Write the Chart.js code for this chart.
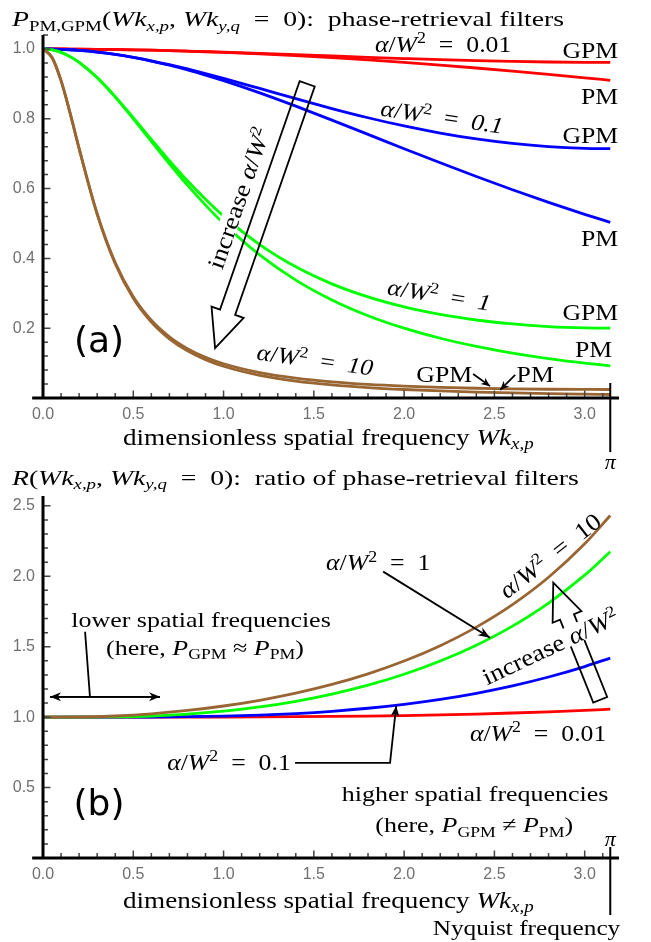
<!DOCTYPE html>
<html>
<head>
<meta charset="utf-8">
<script src="https://cdn.jsdelivr.net/npm/chart.js@4.4.0/dist/chart.umd.min.js"></script>
<style>
    html, body { margin: 0; padding: 0; background: #fff; }
    #wrap { position: relative; width: 651px; height: 942px; overflow: hidden; }
    canvas { position: absolute; left: 0; }
    #cA { top: 0; }
    #cB { top: 460px; }
</style>
</head>
<body>
<div id="wrap">
    <canvas id="cA" width="651" height="480"></canvas>
    <canvas id="cB" width="651" height="482"></canvas>
</div>
<script>
// 频率采样点 (Wk_x,p)
const freqA = [0, 0.05, 0.1, 0.15, 0.2, 0.3, 0.4, 0.5, 0.6, 0.7, 0.8, 0.9, 1.0, 1.2, 1.4, 1.6, 1.8, 2.0, 2.2, 2.4, 2.6, 2.8, 3.0, 3.1416];

// (a) 滤波器 P_PM / P_GPM
const redPM    = [1, 1.0000, 0.9999, 0.9998, 0.9996, 0.9991, 0.9984, 0.9975, 0.9964, 0.9951, 0.9936, 0.9920, 0.9901, 0.9858, 0.9808, 0.9750, 0.9686, 0.9615, 0.9538, 0.9455, 0.9367, 0.9273, 0.9174, 0.9102];
const redGPM   = [1, 1.0000, 0.9999, 0.9998, 0.9996, 0.9991, 0.9984, 0.9976, 0.9965, 0.9953, 0.9940, 0.9925, 0.9909, 0.9874, 0.9837, 0.9798, 0.9760, 0.9725, 0.9692, 0.9664, 0.9642, 0.9626, 0.9617, 0.9615];
const bluePM   = [1, 0.9998, 0.9990, 0.9978, 0.9960, 0.9911, 0.9843, 0.9756, 0.9653, 0.9533, 0.9398, 0.9251, 0.9091, 0.8741, 0.8361, 0.7962, 0.7553, 0.7143, 0.6739, 0.6345, 0.5967, 0.5605, 0.5263, 0.5033];
const blueGPM  = [1, 0.9998, 0.9990, 0.9978, 0.9960, 0.9911, 0.9845, 0.9761, 0.9662, 0.9551, 0.9428, 0.9296, 0.9158, 0.8869, 0.8576, 0.8293, 0.8029, 0.7793, 0.7589, 0.7421, 0.7292, 0.7202, 0.7153, 0.7143];
const greenPM  = [1, 0.9975, 0.9901, 0.9780, 0.9615, 0.9174, 0.8621, 0.8000, 0.7353, 0.6711, 0.6098, 0.5525, 0.5000, 0.4098, 0.3378, 0.2809, 0.2358, 0.2000, 0.1712, 0.1479, 0.1289, 0.1131, 0.1000, 0.0920];
const greenGPM = [1, 0.9975, 0.9901, 0.9780, 0.9617, 0.9180, 0.8636, 0.8033, 0.7411, 0.6801, 0.6224, 0.5692, 0.5210, 0.4395, 0.3759, 0.3270, 0.2895, 0.2609, 0.2394, 0.2235, 0.2121, 0.2047, 0.2008, 0.2000];
const brownPM  = [1, 0.9756, 0.9091, 0.8163, 0.7143, 0.5263, 0.3846, 0.2857, 0.2174, 0.1695, 0.1351, 0.1099, 0.0909, 0.0649, 0.0485, 0.0376, 0.0299, 0.0244, 0.0202, 0.0171, 0.0146, 0.0126, 0.0110, 0.0100];
const brownGPM = [1, 0.9756, 0.9092, 0.8166, 0.7150, 0.5282, 0.3878, 0.2900, 0.2226, 0.1753, 0.1415, 0.1167, 0.0981, 0.0727, 0.0568, 0.0463, 0.0391, 0.0341, 0.0305, 0.0280, 0.0262, 0.0251, 0.0245, 0.0244];

// (b) 比值 R = P_GPM / P_PM
const freqB = [0, 0.2, 0.4, 0.6, 0.8, 1.0, 1.2, 1.4, 1.6, 1.8, 2.0, 2.2, 2.4, 2.6, 2.8, 3.0, 3.1416];
const ratio001 = [1, 1.0000, 1.0000, 1.0001, 1.0003, 1.0008, 1.0016, 1.0030, 1.0049, 1.0077, 1.0114, 1.0161, 1.0221, 1.0294, 1.0381, 1.0483, 1.0564];
const ratio01  = [1, 1.0000, 1.0002, 1.0010, 1.0032, 1.0074, 1.0146, 1.0257, 1.0416, 1.0631, 1.0910, 1.1262, 1.1696, 1.2221, 1.2849, 1.3591, 1.4193];
const ratio1   = [1, 1.0001, 1.0018, 1.0079, 1.0208, 1.0420, 1.0724, 1.1128, 1.1640, 1.2274, 1.3047, 1.3981, 1.5107, 1.6462, 1.8098, 2.0080, 2.1739];
const ratio10  = [1, 1.0010, 1.0082, 1.0237, 1.0473, 1.0791, 1.1198, 1.1704, 1.2324, 1.3075, 1.3982, 1.5075, 1.6393, 1.7987, 1.9928, 2.2304, 2.4316];

const xTicks = [0, 0.5, 1.0, 1.5, 2.0, 2.5, 3.0];

const RED = '#ff0000', BLUE = '#0000ff', GREEN = '#00ff00', BROWN = '#996633';
const SERIF = '"Liberation Serif", "Times New Roman", serif';
const SANS = '"Liberation Sans", Arial, sans-serif';
const STRETCH = 1.12;
const EQ = '\u2002=\u2002';

function series(xs, ys, color) {
    return {
        data: xs.map((x, i) => ({ x, y: ys[i] })),
        borderColor: color,
        borderWidth: 2.8,
        pointRadius: 0,
        fill: false,
        cubicInterpolationMode: 'monotone'
    };
}

// 带数学格式的文字: runs = [[text, style]], style: r / i / sub / subi / sup
function rich(ctx, runs, x, y, o = {}) {
    const size = o.size || 23, sx = o.stretch || STRETCH;
    const fonts = runs.map(([, st]) => {
        const small = st === 'sub' || st === 'subi' || st === 'sup';
        const it = st === 'i' || st === 'subi';
        return (it ? 'italic ' : '') + (small ? Math.round(size * 0.68) : size) + 'px ' + SERIF;
    });
    ctx.save();
    let w = 0;
    const ws = runs.map(([t], i) => { ctx.font = fonts[i]; const m = ctx.measureText(t).width; w += m; return m; });
    ctx.translate(x, y);
    if (o.angle) ctx.rotate(o.angle * Math.PI / 180);
    ctx.scale(sx, 1);
    let cx = o.align === 'left' ? 0 : o.align === 'right' ? -w : -w / 2;
    const base = size * 0.33;
    if (o.bg) {
        ctx.fillStyle = '#fff';
        ctx.fillRect(cx - 2, base - size * 0.78, w + 4, size * 0.8);
    }
    ctx.fillStyle = '#000';
    ctx.textBaseline = 'alphabetic';
    ctx.textAlign = 'left';
    runs.forEach(([t, st], i) => {
        ctx.font = fonts[i];
        const dy = (st === 'sub' || st === 'subi') ? size * 0.2 : st === 'sup' ? -size * 0.36 : 0;
        ctx.fillText(t, cx, base + dy);
        cx += ws[i];
    });
    ctx.restore();
}

const aW = (val, st) => [['α', 'i'], ['/', 'r'], ['W', 'i'], ['2', 'sup'], [EQ, 'r'], [val, st || 'r']];
const incr = [['increase ', 'r'], ['α', 'i'], ['/', 'r'], ['W', 'i'], ['2', 'sup']];
const xLabel = [['dimensionless spatial frequency ', 'r'], ['Wk', 'i'], ['x,p', 'subi']];

function arrowPath(ctx, pts, head = 11, hw = 4.5) {
    ctx.save();
    ctx.strokeStyle = '#000'; ctx.fillStyle = '#000'; ctx.lineWidth = 1.8;
    ctx.beginPath();
    pts.forEach((p, i) => i ? ctx.lineTo(p[0], p[1]) : ctx.moveTo(p[0], p[1]));
    ctx.stroke();
    const [x1, y1] = pts[pts.length - 2], [x2, y2] = pts[pts.length - 1];
    const L = Math.hypot(x2 - x1, y2 - y1), ux = (x2 - x1) / L, uy = (y2 - y1) / L;
    ctx.beginPath();
    ctx.moveTo(x2, y2);
    ctx.lineTo(x2 - ux * head - uy * hw, y2 - uy * head + ux * hw);
    ctx.lineTo(x2 - ux * head * 0.7, y2 - uy * head * 0.7);
    ctx.lineTo(x2 - ux * head + uy * hw, y2 - uy * head - ux * hw);
    ctx.closePath();
    ctx.fill();
    ctx.restore();
}

function doubleArrow(ctx, a, b) {
    arrowPath(ctx, [a, b]);
    arrowPath(ctx, [b, a]);
}

function hollowArrow(ctx, T, H, w, hw, hl) {
    const L = Math.hypot(H[0] - T[0], H[1] - T[1]);
    const ux = (H[0] - T[0]) / L, uy = (H[1] - T[1]) / L, nx = -uy, ny = ux;
    const B = [H[0] - ux * hl, H[1] - uy * hl];
    const pts = [
        [T[0] + nx * w, T[1] + ny * w], [B[0] + nx * w, B[1] + ny * w], [B[0] + nx * hw, B[1] + ny * hw],
        H,
        [B[0] - nx * hw, B[1] - ny * hw], [B[0] - nx * w, B[1] - ny * w], [T[0] - nx * w, T[1] - ny * w]
    ];
    ctx.save();
    ctx.strokeStyle = '#000'; ctx.lineWidth = 1.8; ctx.lineJoin = 'miter';
    ctx.beginPath();
    pts.forEach((p, i) => i ? ctx.lineTo(p[0], p[1]) : ctx.moveTo(p[0], p[1]));
    ctx.closePath();
    ctx.stroke();
    ctx.restore();
}

// 坐标轴 (Mathematica 风格, 刻度朝内)
function drawAxes(chart, yStep, yMinor) {
    const ctx = chart.ctx, a = chart.chartArea, xs = chart.scales.x, ys = chart.scales.y;
    const x0 = xs.getPixelForValue(0), y0 = ys.getPixelForValue(0);
    ctx.save();
    ctx.strokeStyle = '#444'; ctx.lineWidth = 1.5;
    ctx.beginPath();
    for (let i = 1; i <= 31; i++) {
        const p = xs.getPixelForValue(i / 10), len = i % 5 === 0 ? 6 : 3.5;
        ctx.moveTo(p, y0); ctx.lineTo(p, y0 - 1.5 - len);
    }
    const n = Math.floor(ys.max / yMinor + 1e-6);
    const per = Math.round(yStep / yMinor);
    for (let i = 1; i <= n; i++) {
        const p = ys.getPixelForValue(i * yMinor), len = i % per === 0 ? 6 : 3.5;
        ctx.moveTo(x0, p); ctx.lineTo(x0 + 1.5 + len, p);
    }
    ctx.stroke();
    ctx.strokeStyle = '#000'; ctx.lineWidth = 3;
    ctx.beginPath();
    ctx.moveTo(xs.getPixelForValue(-0.06), y0); ctx.lineTo(a.right, y0);
    ctx.moveTo(x0, a.top); ctx.lineTo(x0, y0);
    ctx.stroke();
    ctx.restore();
}

function piMark(chart, yTop, yBot, yLab) {
    const ctx = chart.ctx, xs = chart.scales.x, ys = chart.scales.y;
    const p = xs.getPixelForValue(Math.PI);
    ctx.save();
    ctx.strokeStyle = '#000'; ctx.lineWidth = 2;
    ctx.beginPath(); ctx.moveTo(p, ys.getPixelForValue(yTop)); ctx.lineTo(p, ys.getPixelForValue(yBot)); ctx.stroke();
    ctx.restore();
    rich(ctx, [['π', 'i']], p, ys.getPixelForValue(yLab), { size: 22, stretch: 1 });
}

function bigLabel(ctx, text, p) {
    ctx.save();
    ctx.font = '36px "DejaVu Sans", sans-serif';
    ctx.fillStyle = '#000'; ctx.textAlign = 'center'; ctx.textBaseline = 'middle';
    ctx.fillText(text, p[0], p[1]);
    ctx.restore();
}

const annotA = {
    id: 'annotA',
    afterDatasetsDraw(chart) {
        const ctx = chart.ctx;
        const P = (x, y) => [chart.scales.x.getPixelForValue(x), chart.scales.y.getPixelForValue(y)];
        const T = (runs, p, o) => rich(ctx, runs, p[0], p[1], o);

        hollowArrow(ctx, P(1.463, 0.90), P(0.953, 0.143), 8, 17, 38);
        T(incr, P(1.085, 0.573), { angle: -71, bg: true, size: 24 });

        T(aW('0.01'), P(2.216, 1.014));
        T([['GPM', 'r']], P(3.186, 0.997), { align: 'right' });
        T([['PM', 'r']], P(3.186, 0.865), { align: 'right' });

        T(aW('0.1', 'i'), P(2.21, 0.805), { angle: 8.5 });
        T([['GPM', 'r']], P(3.186, 0.751), { align: 'right' });
        T([['PM', 'r']], P(3.186, 0.458), { align: 'right' });

        T(aW('1', 'i'), P(2.194, 0.295), { angle: 9 });
        T([['GPM', 'r']], P(3.186, 0.246), { align: 'right' });
        T([['PM', 'r']], P(3.152, 0.140), { align: 'right' });

        T(aW('10', 'i'), P(1.507, 0.109), { angle: 7.8 });
        T([['GPM', 'r']], P(2.222, 0.069));
        arrowPath(ctx, [P(2.382, 0.069), P(2.476, 0.034)], 9, 4);
        T([['PM', 'r']], P(2.726, 0.069));
        arrowPath(ctx, [P(2.615, 0.066), P(2.532, 0.023)], 9, 4);

        bigLabel(ctx, '(a)', P(0.31, 0.158));

        drawAxes(chart, 0.2, 0.04);
        piMark(chart, 0.043, -0.155, -0.183);

        T([['P', 'i'], ['PM,GPM', 'sub'], ['(', 'r'], ['Wk', 'i'], ['x,p', 'subi'], [', ', 'r'], ['Wk', 'i'], ['y,q', 'subi'], [EQ + '0):  phase-retrieval filters', 'r']],
          P(-0.172, 1.086), { align: 'left', size: 22, stretch: 1.26 });
        T(xLabel, P(1.58, -0.112), { size: 23, stretch: 1.18 });
    }
};

const annotB = {
    id: 'annotB',
    afterDatasetsDraw(chart) {
        const ctx = chart.ctx;
        const P = (x, y) => [chart.scales.x.getPixelForValue(x), chart.scales.y.getPixelForValue(y)];
        const T = (runs, p, o) => rich(ctx, runs, p[0], p[1], o);

        T([['lower spatial frequencies', 'r']], P(0.875, 1.692), { size: 22, stretch: 1.18 });
        T([['(here, ', 'r'], ['P', 'i'], ['GPM', 'sub'], [' ≈ ', 'r'], ['P', 'i'], ['PM', 'sub'], [')', 'r']], P(0.897, 1.493), { size: 22, stretch: 1.18 });
        doubleArrow(ctx, P(0.039, 1.144), P(0.648, 1.144));
        arrowPath(ctx, [P(0.233, 1.606), P(0.260, 1.144)], 0.1, 0.1);

        T(aW('0.1'), P(1.03, 0.682));
        arrowPath(ctx, [P(1.396, 0.675), P(1.922, 0.675), P(1.956, 1.08)], 11, 4.5);

        T(aW('1'), P(1.856, 2.097));
        arrowPath(ctx, [P(1.884, 2.033), P(2.476, 1.564)], 12, 4.5);

        T(aW('10'), P(2.809, 2.146), { angle: -38, size: 24 });

        hollowArrow(ctx, P(3.086, 1.123), P(2.826, 1.955), 7.5, 15.5, 37);
        T(incr, P(2.81, 1.50), { angle: -25.4, bg: true, size: 24 });

        T(aW('0.01'), P(2.742, 0.888));

        bigLabel(ctx, '(b)', P(0.31, 0.37));
        T([['higher spatial frequencies', 'r']], P(2.393, 0.455), { size: 22, stretch: 1.18 });
        T([['(here, ', 'r'], ['P', 'i'], ['GPM', 'sub'], [' ≠ ', 'r'], ['P', 'i'], ['PM', 'sub'], [')', 'r']], P(2.388, 0.235), { size: 22, stretch: 1.18 });

        drawAxes(chart, 0.5, 0.1);
        piMark(chart, 0.078, -0.405, 0.135);

        T([['R', 'i'], ['(', 'r'], ['Wk', 'i'], ['x,p', 'subi'], [', ', 'r'], ['Wk', 'i'], ['y,q', 'subi'], [EQ + '0):  ratio of phase-retrieval filters', 'r']],
          P(-0.172, 2.701), { align: 'left', size: 22, stretch: 1.26 });
        T(xLabel, P(1.58, -0.2985), { size: 23, stretch: 1.18 });
        T([['Nyquist frequency', 'r']], P(3.197, -0.497), { align: 'right', size: 22, stretch: 1.15 });
    }
};

function scaleOpts(xH, yMax, yStep) {
    const tickFont = { family: SANS, size: 16 };
    return {
        x: {
            type: 'linear', min: 0, max: 3.19,
            afterFit: s => { s.height = xH; },
            grid: { display: false, drawTicks: false },
            border: { display: false },
            afterBuildTicks: s => { s.ticks = xTicks.map(v => ({ value: v })); },
            ticks: { padding: 7, color: '#707070', font: tickFont, maxRotation: 0, autoSkip: false,
                     callback: v => v.toFixed(1) }
        },
        y: {
            type: 'linear', min: 0, max: yMax,
            afterFit: s => { s.width = 43; },
            grid: { display: false, drawTicks: false },
            border: { display: false },
            ticks: { stepSize: yStep, includeBounds: false, padding: 8, color: '#707070', font: tickFont,
                     callback: v => Math.abs(v) < 1e-9 ? '' : v.toFixed(1) }
        }
    };
}

function baseOptions(padTop, xH, yMax, yStep) {
    return {
        responsive: false,
        animation: false,
        devicePixelRatio: 1,
        layout: { padding: { top: padTop, right: 32, left: 0, bottom: 0 } },
        plugins: { legend: { display: false }, tooltip: { enabled: false }, title: { display: false } },
        scales: scaleOpts(xH, yMax, yStep)
    };
}

new Chart(document.getElementById('cA'), {
    type: 'line',
    data: {
        datasets: [
            series(freqA, brownGPM, BROWN), series(freqA, brownPM, BROWN),
            series(freqA, greenGPM, GREEN), series(freqA, greenPM, GREEN),
            series(freqA, blueGPM, BLUE), series(freqA, bluePM, BLUE),
            series(freqA, redGPM, RED), series(freqA, redPM, RED)
        ]
    },
    options: baseOptions(35, 82, 1.04, 0.2),
    plugins: [annotA]
});

new Chart(document.getElementById('cB'), {
    type: 'line',
    data: {
        datasets: [
            series(freqB, ratio10, BROWN), series(freqB, ratio1, GREEN),
            series(freqB, ratio01, BLUE), series(freqB, ratio001, RED)
        ]
    },
    options: baseOptions(36, 84, 2.57, 0.5),
    plugins: [annotB]
});
</script>
</body>
</html>
